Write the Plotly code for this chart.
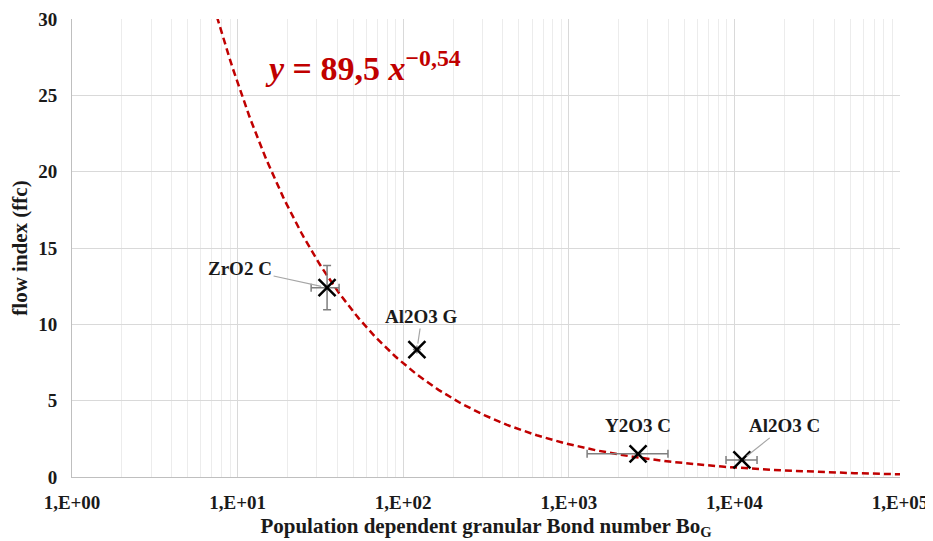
import numpy as np
import plotly.graph_objects as go

# ---- data ----
materials = ["ZrO2 C", "Al2O3 G", "Y2O3 C", "Al2O3 C"]
bond_number = [34.7, 121, 2620, 11100]
ffc = [12.4, 8.35, 1.52, 1.12]
ffc_err = [1.45, 0, 0, 0]
bond_err_plus = [6.3, 0, 1350, 2600]
bond_err_minus = [6.9, 0, 1330, 2200]

fit_a = 89.5
fit_b = -0.54
fit_x_min = 7.5
fit_x_max = 1e5

x_tickvals = [1, 10, 100, 1000, 10000, 100000]
x_ticktext = ["1,E+00", "1,E+01", "1,E+02", "1,E+03", "1,E+04", "1,E+05"]
y_tickvals = [0, 5, 10, 15, 20, 25, 30]

# trend line from the displayed power-law equation
fit_x = np.logspace(np.log10(fit_x_min), np.log10(fit_x_max), 300)
fit_y = fit_a * fit_x ** fit_b

FONT = "Liberation Serif"
RED = "#C00000"
TXT = "#1a1a1a"

fig = go.Figure()
fig.add_trace(go.Scatter(
    x=fit_x, y=fit_y, mode="lines",
    line=dict(color=RED, width=2.5, dash="7px,4px"),
    hoverinfo="skip", showlegend=False,
))
fig.add_trace(go.Scatter(
    x=bond_number, y=ffc, mode="markers", text=materials,
    marker=dict(symbol="x-thin", size=17, line=dict(color="black", width=2.5)),
    error_y=dict(type="data", array=ffc_err, color="#7f7f7f", thickness=1.5, width=4),
    error_x=dict(type="data", array=bond_err_plus, arrayminus=bond_err_minus,
                 color="#7f7f7f", thickness=1.5, width=4),
    showlegend=False,
))

label_offsets = [(-87, -19, True), (5, -33, True), (0, -28, False), (43, -34, True)]
for name, bx, fy, (ax, ay, arrow) in zip(materials, bond_number, ffc, label_offsets):
    fig.add_annotation(
        x=np.log10(bx), y=fy, text="<b>%s</b>" % name,
        showarrow=True, ax=ax, ay=ay,
        arrowhead=0, arrowwidth=1.2,
        arrowcolor="#a6a6a6" if arrow else "rgba(0,0,0,0)",
        standoff=6,
        font=dict(family=FONT, size=19, color=TXT),
    )

fig.add_annotation(
    xref="paper", yref="paper", x=0.352, y=0.848,
    xanchor="center", yanchor="bottom",
    text="<b><i>y</i>&nbsp;=&nbsp;89,5&nbsp;<i>x</i><sup>−0,54</sup></b>",
    showarrow=False,
    font=dict(family=FONT, size=34, color=RED),
)

# the page body adds an 8 px offset; margins compensate so the plot area
# lands at about x 72..900, y 18..476 in the window
fig.update_layout(
    width=933, height=541,
    margin=dict(l=64, r=41, t=11, b=72),
    paper_bgcolor="white", plot_bgcolor="white",
    font=dict(family=FONT, color=TXT),
    xaxis=dict(
        type="log", range=[0, 5], automargin=False,
        tickvals=x_tickvals, ticktext=x_ticktext,
        tickfont=dict(family=FONT, size=19, color=TXT, weight="bold"),
        ticklabelstandoff=8, ticklabeloverflow="allow",
        showgrid=True, gridcolor="#d9d9d9", gridwidth=1,
        minor=dict(showgrid=True, dtick="D1", gridcolor="#ececec", gridwidth=1, ticks=""),
        showline=True, linecolor="#bfbfbf", linewidth=1,
        ticks="", zeroline=False,
        title=dict(text="<b>Population dependent granular Bond number Bo<sub>G</sub></b>",
                   font=dict(family=FONT, size=21, color=TXT), standoff=6),
    ),
    yaxis=dict(
        range=[0, 30], automargin=False,
        tickvals=y_tickvals,
        tickfont=dict(family=FONT, size=19, color=TXT, weight="bold"),
        ticklabelstandoff=10, ticklabeloverflow="allow",
        showgrid=True, gridcolor="#d9d9d9", gridwidth=1,
        showline=True, linecolor="#bfbfbf", linewidth=1,
        ticks="", zeroline=False,
        title=dict(text="<b>flow index (ffc)</b>",
                   font=dict(family=FONT, size=21, color=TXT), standoff=4),
    ),
)

fig.write_html("out.html")
